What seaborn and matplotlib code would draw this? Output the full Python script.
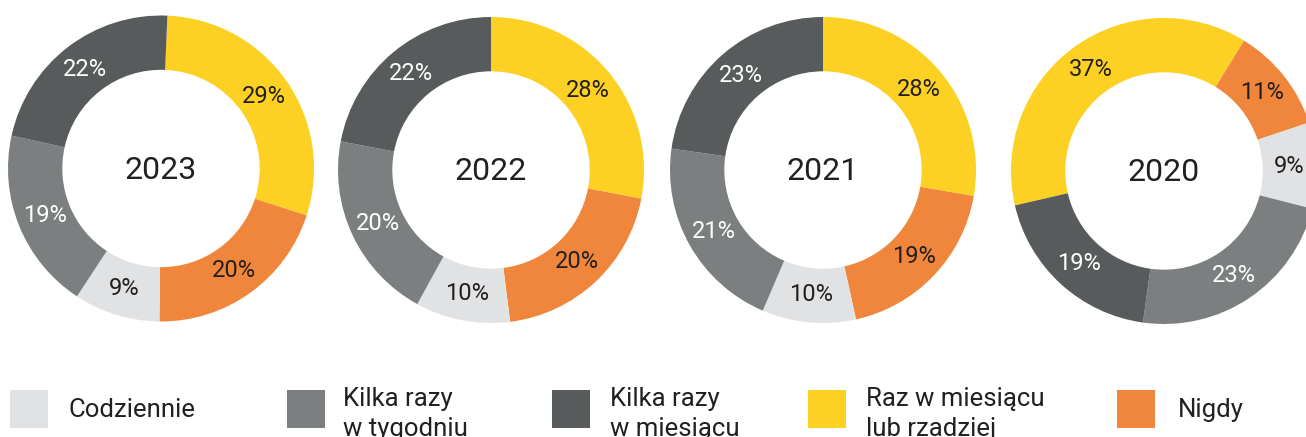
import numpy as np
import pandas as pd
import matplotlib
matplotlib.use("Agg")
import matplotlib.pyplot as plt
import seaborn as sns
from matplotlib.patches import Rectangle

# --- data (legend order) ---
categories = ["Codziennie", "Kilka razy\nw tygodniu", "Kilka razy\nw miesiącu",
              "Raz w miesiącu\nlub rzadziej", "Nigdy"]
years = ["2023", "2022", "2021", "2020"]
v2023 = [9, 19, 22, 29, 20]
v2022 = [10, 20, 22, 28, 20]
v2021 = [10, 21, 23, 28, 19]
v2020 = [9, 23, 19, 37, 11]

df = pd.DataFrame([v2023, v2022, v2021, v2020], index=years, columns=categories)

sns.set_theme(style="white")
plt.rcParams['font.family'] = ['Roboto', 'DejaVu Sans']

colors = sns.color_palette(["#e1e2e3", "#7c7f80", "#585b5c", "#fdd124", "#f0863b"])
txt_dark = "#231f20"
label_cols = [txt_dark, "white", "white", txt_dark, txt_dark]

# wedge order clockwise: yellow, orange, light, mid, dark
order = [3, 4, 0, 1, 2]
# where the yellow wedge begins, degrees clockwise from 12 o'clock
offsets = [2.4, 0, 0, 257]

W, H = 1306, 437
fig = plt.figure(figsize=(W / 100, H / 100), dpi=100)
fig.patch.set_facecolor("white")

centers = [(161, 168.5), (491, 170), (823, 170), (1164, 171)]
R = 153

for (cx, cy), year, off in zip(centers, years, offsets):
    ax = fig.add_axes([(cx - R) / W, 1 - (cy + R) / H, 2 * R / W, 2 * R / H])
    vals = df.loc[year].values[order]
    cols = [colors[i] for i in order]
    wedges, texts, autotexts = ax.pie(
        vals, colors=cols, startangle=90 - off, counterclock=False, radius=1,
        wedgeprops=dict(width=0.355, linewidth=0), autopct="%d", pctdistance=0.82)
    for t, v, i in zip(autotexts, vals, order):
        t.set_text(f"{v}%")
        t.set_color(label_cols[i])
        t.set_fontsize(17)
        t.set_fontweight("normal")
    ax.text(0, -0.01, year, ha="center", va="center", fontsize=23, color=txt_dark)
    ax.set_xlim(-1, 1)
    ax.set_ylim(-1, 1)
    ax.axis("off")

# --- legend strip ---
lax = fig.add_axes([0, 0, 1, 1], zorder=-1)
lax.set_xlim(0, W)
lax.set_ylim(H, 0)
lax.axis("off")
sq_x = [10, 287, 552, 808, 1117]
tx_x = [68, 343, 610, 866, 1178]
for i, lab in enumerate(categories):
    lax.add_patch(Rectangle((sq_x[i], 390), 38, 38, color=colors[i], lw=0))
    ty = 414 if "\n" in lab else 410
    lax.text(tx_x[i], ty, lab, ha="left", va="center", fontsize=18.5,
             color=txt_dark, linespacing=1.28)

plt.savefig("out.png", dpi=100, facecolor="white")
